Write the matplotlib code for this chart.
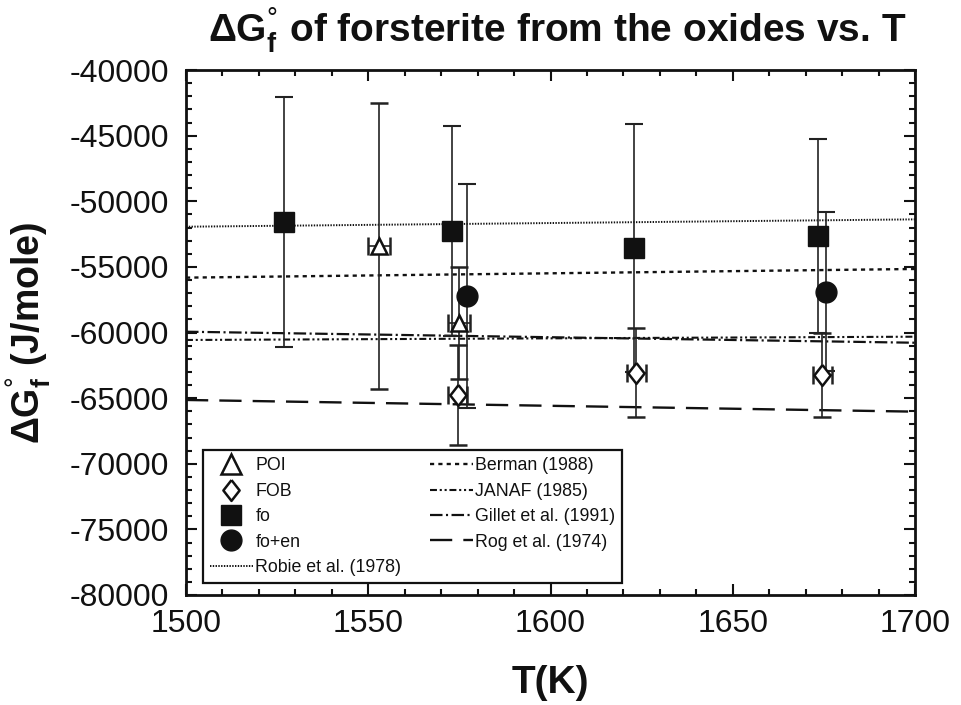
import matplotlib
matplotlib.use("Agg")
import matplotlib.pyplot as plt
from matplotlib.lines import Line2D
from matplotlib.ticker import MultipleLocator

plt.rcParams['font.family'] = ['Liberation Sans', 'DejaVu Sans']
plt.rcParams['mathtext.fontset'] = 'custom'
plt.rcParams['mathtext.rm'] = 'Liberation Sans'
plt.rcParams['mathtext.bf'] = 'Liberation Sans:bold'
plt.rcParams['lines.scale_dashes'] = False
plt.rcParams['axes.unicode_minus'] = False

# ---- data ----
poi_T = [1553, 1575]
poi_G = [-53400, -59300]
poi_err = [10870, 4270]
poi_xerr = [3.0, 3.0]

fob_T = [1574.5, 1623.5, 1674.5]
fob_G = [-64760, -63060, -63240]
fob_err = [3810, 3400, 3170]
fob_xerr = [2.6, 2.6, 2.6]

fo_T = [1527, 1573, 1623, 1673.5]
fo_G = [-51580, -52240, -53590, -52650]
fo_err = [9500, 8000, 9450, 7400]

foen_T = [1577, 1675.5]
foen_G = [-57220, -56890]
foen_err = [8530, 6070]

line_T = [1500, 1700]
robie_G = [-51940, -51380]
berman_G = [-55820, -55160]
janaf_G = [-60570, -60320]
gillet_G = [-59940, -60780]
rog_G = [-65140, -66030]

W, H = 961, 705
fig = plt.figure(figsize=(W / 100, H / 100), dpi=100)
ax = fig.add_axes([186 / W, 1 - 595 / H, (915 - 186) / W, (595 - 70) / H])

k = '#111111'
# reference lines
ax.plot(line_T, robie_G, color=k, lw=1.4, dashes=(1.0, 1.0))
ax.plot(line_T, berman_G, color=k, lw=1.7, dashes=(3, 3))
ax.plot(line_T, janaf_G, color=k, lw=1.5, dashes=(5, 2, 1.5, 2, 1.5, 2))
ax.plot(line_T, gillet_G, color=k, lw=1.6, dashes=(9, 2.5, 1.5, 2.5))
ax.plot(line_T, rog_G, color=k, lw=1.7, dashes=(16, 8))

eb = dict(ecolor='#222222', elinewidth=1.2, capsize=6.5, capthick=1.5, ls='none', zorder=3)
ax.errorbar(fo_T, fo_G, yerr=fo_err, marker='s', ms=15, mfc=k, mec=k, **eb)
ax.errorbar(foen_T, foen_G, yerr=foen_err, marker='o', ms=15, mfc=k, mec=k, **eb)
ax.errorbar(poi_T, poi_G, yerr=poi_err, xerr=poi_xerr, marker='^', ms=12,
            mfc='white', mec=k, mew=1.8, **eb)
diamond = [(0, 1), (0.78, 0), (0, -1), (-0.78, 0), (0, 1)]
ax.errorbar(fob_T, fob_G, yerr=fob_err, xerr=fob_xerr, marker=diamond, ms=15,
            mfc='white', mec=k, mew=1.8, **eb)

ax.set_xlim(1500, 1700)
ax.set_ylim(-80000, -40000)
ax.xaxis.set_major_locator(MultipleLocator(50))
ax.xaxis.set_minor_locator(MultipleLocator(10))
ax.yaxis.set_major_locator(MultipleLocator(5000))
ax.yaxis.set_minor_locator(MultipleLocator(1000))
ax.tick_params(which='both', direction='in', top=True, right=True, color=k, width=1.5)
ax.tick_params(which='major', length=8)
ax.tick_params(which='minor', length=4)
ax.tick_params(axis='y', labelsize=23, pad=12, labelcolor=k)
ax.tick_params(axis='x', labelsize=23, pad=10, labelcolor=k)
for s in ax.spines.values():
    s.set_linewidth(2)
    s.set_color(k)

glabel = '$\\mathbf{\\Delta G}^{\u00b0}_{\\mathbf{f}}$'
ax.set_xlabel('T(K)', fontsize=28, fontweight='bold', color=k, labelpad=19)
ax.set_ylabel(glabel + ' (J/mole)', fontsize=27, fontweight='bold',
              color=k, labelpad=12)
fig.text(557 / W, 1 - 42 / H, glabel + ' of forsterite from the oxides vs. T',
         fontsize=28, fontweight='bold', ha='center', va='baseline', color=k)

handles = [
    Line2D([], [], ls='none', marker='^', ms=14, mfc='white', mec=k, mew=1.8),
    Line2D([], [], ls='none', marker=diamond, ms=15, mfc='white', mec=k, mew=1.8),
    Line2D([], [], ls='none', marker='s', ms=15, mfc=k, mec=k),
    Line2D([], [], ls='none', marker='o', ms=15, mfc=k, mec=k),
    Line2D([], [], color=k, lw=1.4, dashes=(1.0, 1.0)),
    Line2D([], [], color=k, lw=1.7, dashes=(3, 3)),
    Line2D([], [], color=k, lw=1.5, dashes=(5, 2, 1.5, 2, 1.5, 2)),
    Line2D([], [], color=k, lw=1.6, dashes=(9, 2.5, 1.5, 2.5)),
    Line2D([], [], color=k, lw=1.7, dashes=(16, 8)),
]
labels = ['POI', 'FOB', 'fo', 'fo+en', 'Robie et al. (1978)',
          'Berman (1988)', 'JANAF (1985)', 'Gillet et al. (1991)', 'Rog et al. (1974)']
leg = ax.legend(handles, labels, ncol=2, loc='lower left',
                bbox_to_anchor=((203 - 186) / 729, (595 - 583) / 525),
                fontsize=12.8, frameon=True, fancybox=False, framealpha=1,
                edgecolor=k, handlelength=2.4, handletextpad=0.15, columnspacing=1.6,
                labelspacing=0.47, borderpad=0.4, borderaxespad=0)
leg.get_frame().set_linewidth(1.6)
for t in leg.get_texts():
    t.set_color(k)

fig.savefig('out.png', dpi=100)
